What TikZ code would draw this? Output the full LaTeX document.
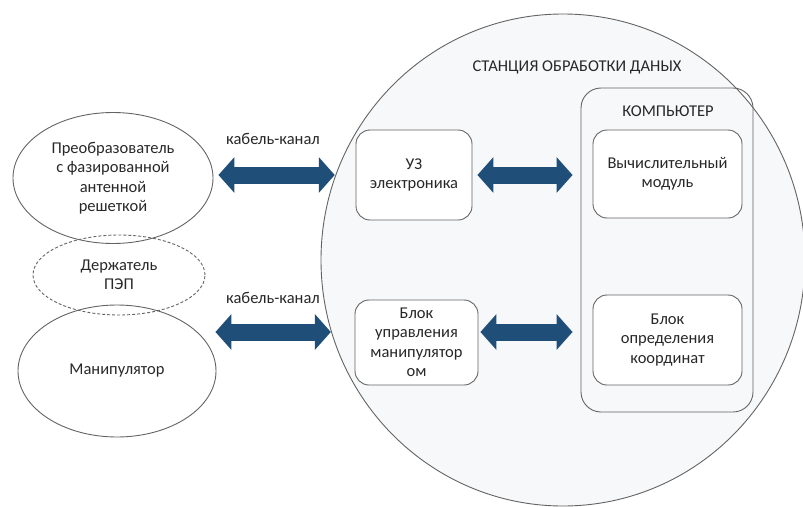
\documentclass[tikz,border=0pt]{standalone}
\usepackage{fontspec}
\setmainfont{Carlito}
\usetikzlibrary{shapes.geometric,arrows.meta}
\definecolor{arrowblue}{RGB}{31,78,121}
\definecolor{linegray}{RGB}{100,100,100}
\definecolor{stationfill}{RGB}{247,248,250}
\definecolor{txt}{RGB}{40,40,40}
\begin{document}
\begin{tikzpicture}[x=1pt,y=-1pt,
  every node/.style={font=\fontsize{16.5}{19.5}\selectfont, text=txt, align=center},
  oval/.style={ellipse, draw=linegray, line width=0.9pt, inner sep=0pt},
  dashoval/.style={oval, dash pattern=on 3pt off 2pt},
  roundbox/.style={rectangle, rounded corners=14pt, draw=linegray, line width=0.9pt, fill=white, inner sep=2pt},
  bigarrow/.style={arrowblue, line width=17pt,
    {Triangle[width=35pt,length=16pt]}-{Triangle[width=35pt,length=16pt]}},
  lbl/.style={inner sep=0pt}
]
\useasboundingbox (0,0) rectangle (803,506);
\fill[white] (0,0) rectangle (803,506);

% station
\node[oval, fill=stationfill, minimum width=484pt, minimum height=492pt] (station) at (563,260) {};
\node[lbl] (stlabel) at (577,67) {СТАНЦИЯ ОБРАБОТКИ ДАНЫХ};

% computer
\node[rectangle, rounded corners=20pt, draw=linegray, line width=0.9pt, minimum width=172pt, minimum height=324pt] (comp) at (667,250) {};
\node[lbl] (complabel) at (668,111) {КОМПЬЮТЕР};
\node[roundbox, minimum width=149pt, minimum height=88pt] (calc) at (667.5,174) {Вычислительный\\модуль};
\node[roundbox, minimum width=149pt, minimum height=90pt] (coord) at (667.5,340) {Блок\\определения\\координат};

% station blocks
\node[roundbox, minimum width=116pt, minimum height=90pt] (uz) at (414,175) {УЗ\\электроника};
\node[roundbox, minimum width=123pt, minimum height=85pt] (ctrl) at (416.5,342.5) {Блок\\управления\\манипулятор\\ом};

% left ellipses
\node[oval, minimum width=200pt, minimum height=131pt] (probe) at (113,178) {Преобразователь\\с фазированной\\антенной\\решеткой};
\node[dashoval, minimum width=172pt, minimum height=80pt] (holder) at (119,275) {Держатель\\ПЭП};
\node[oval, minimum width=198pt, minimum height=132pt] (manip) at (117,371) {Манипулятор};

% labels
\node[lbl] (cab1) at (273,139) {кабель-канал};
\node[lbl] (cab2) at (273,298) {кабель-канал};

% arrows
\coordinate (row1) at (0,175);
\coordinate (row2) at (0,332);
\draw[bigarrow] ([xshift=5pt]probe.east |- row1) -- (station.160 |- row1);
\draw[bigarrow] ([xshift=-1pt]manip.east |- row2) -- (station.197 |- row2);
\draw[bigarrow] ([xshift=5pt]uz.east |- row1) -- ([xshift=-8pt]comp.west |- row1);
\draw[bigarrow] ([xshift=2pt]ctrl.east |- row2) -- ([xshift=-8pt]comp.west |- row2);
\end{tikzpicture}
\end{document}
